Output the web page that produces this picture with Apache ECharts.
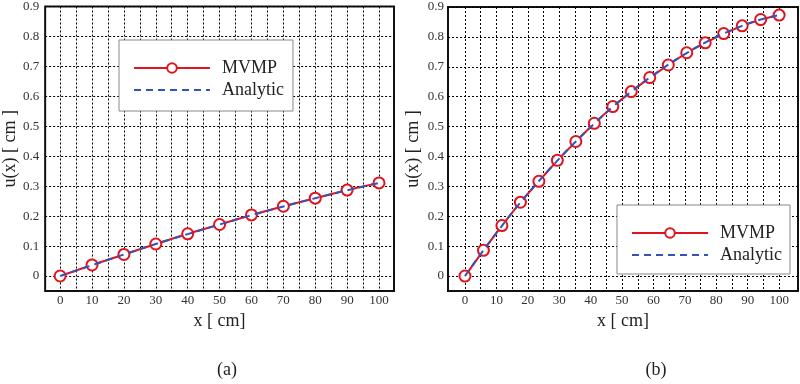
<!DOCTYPE html>
<html>
<head>
<meta charset="utf-8">
<script src="https://cdn.jsdelivr.net/npm/echarts@6/dist/echarts.min.js"></script>
<style>
html,body{margin:0;padding:0;background:#fff;}
#main{width:800px;height:384px;}
</style>
</head>
<body>
<div id="main"></div>
<script>
// ---- data ----
var xA = [0, 10, 20, 30, 40, 50, 60, 70, 80, 90, 100];
var mvmpA = [0, 0.037, 0.072, 0.107, 0.141, 0.172, 0.204, 0.233, 0.260, 0.287, 0.311];
var analyticA = [0, 0.036, 0.072, 0.107, 0.140, 0.172, 0.203, 0.232, 0.260, 0.286, 0.311];

var xB = [0, 5.88, 11.76, 17.65, 23.53, 29.41, 35.29, 41.18, 47.06, 52.94, 58.82, 64.71, 70.59, 76.47, 82.35, 88.24, 94.12, 100];
var mvmpB = [0, 0.086, 0.169, 0.247, 0.317, 0.387, 0.450, 0.511, 0.567, 0.617, 0.664, 0.706, 0.747, 0.780, 0.811, 0.837, 0.858, 0.873];
var analyticB = [0, 0.086, 0.168, 0.246, 0.318, 0.386, 0.450, 0.510, 0.566, 0.617, 0.664, 0.707, 0.746, 0.781, 0.811, 0.837, 0.858, 0.873];

var xTicks = [0, 5, 10, 15, 20, 25, 30, 35, 40, 45, 50, 55, 60, 65, 70, 75, 80, 85, 90, 95, 100];
var xLabels = [0, 10, 20, 30, 40, 50, 60, 70, 80, 90, 100];
var yTicks = [0, 0.1, 0.2, 0.3, 0.4, 0.5, 0.6, 0.7, 0.8, 0.9];
var seriesNames = ['MVMP', 'Analytic'];
var panelLabels = ['(a)', '(b)'];
var xName = 'x [ cm]';
var yName = 'u(x) [ cm ]';

var FONT = "'Liberation Serif', 'Times New Roman', 'DejaVu Serif', serif";
var RED = '#e0141e';
var BLUE = '#3552b8';

function pairs(xs, ys) { return xs.map(function (x, i) { return [x, ys[i]]; }); }

function makeX(idx, min, max) {
  return {
    type: 'value', gridIndex: idx, min: min, max: max,
    name: xName, nameLocation: 'middle', nameGap: 16,
    nameTextStyle: { fontFamily: FONT, fontSize: 18, color: '#222' },
    axisLine: { show: false },
    axisTick: { show: false, customValues: xTicks },
    axisLabel: { customValues: xLabels, fontFamily: FONT, fontSize: 13, color: '#333', margin: 3 },
    splitLine: { show: true, lineStyle: { color: '#000', width: 1, type: [2, 2] } }
  };
}
function makeY(idx, gap, margin) {
  return {
    type: 'value', gridIndex: idx, min: -0.05, max: 0.9,
    name: yName, nameLocation: 'middle', nameGap: gap, nameRotate: 90,
    nameTextStyle: { fontFamily: FONT, fontSize: 18, color: '#222' },
    axisLine: { show: false },
    axisTick: { show: false, customValues: yTicks },
    axisLabel: { customValues: yTicks, fontFamily: FONT, fontSize: 13, color: '#333', margin: margin,
      formatter: function (v) { return v === 0 ? '0' : v.toFixed(1); } },
    splitLine: { show: true, lineStyle: { color: '#000', width: 1, type: [2, 2] } }
  };
}
function mvmpSeries(idx, data) {
  return {
    name: seriesNames[0], type: 'line', xAxisIndex: idx, yAxisIndex: idx,
    data: data, symbol: 'emptyCircle', symbolSize: 11, showSymbol: true,
    lineStyle: { color: RED, width: 2 },
    itemStyle: { color: RED, borderColor: RED, borderWidth: 2 },
    animation: false, z: 2
  };
}
function analyticSeries(idx, data) {
  return {
    name: seriesNames[1], type: 'line', xAxisIndex: idx, yAxisIndex: idx,
    data: data, symbol: 'none', smooth: true,
    lineStyle: { color: BLUE, width: 2, type: [7, 5] },
    itemStyle: { color: BLUE },
    animation: false, z: 3
  };
}
function makeLegend(left, top, pad) {
  return {
    orient: 'vertical', left: left, top: top,
    data: [
      { name: seriesNames[0] },
      { name: seriesNames[1], itemStyle: { color: 'rgba(0,0,0,0)', borderColor: 'rgba(0,0,0,0)', borderWidth: 0, opacity: 0 } }
    ],
    itemWidth: 76, itemHeight: 12, itemGap: 4,
    padding: pad,
    backgroundColor: '#fff', borderColor: '#888', borderWidth: 1, borderRadius: 0,
    textStyle: { fontFamily: FONT, fontSize: 18, color: '#222', padding: [0, 0, 0, 7] },
    selectedMode: false
  };
}

var chart = echarts.init(document.getElementById('main'), null, { renderer: 'canvas' });
chart.setOption({
  backgroundColor: '#fff',
  animation: false,
  textStyle: { fontFamily: FONT },
  grid: [
    { left: 45, top: 4, width: 349, height: 287, show: true, borderColor: '#111', borderWidth: 2, backgroundColor: 'transparent' },
    { left: 448, top: 7, width: 350, height: 284, show: true, borderColor: '#111', borderWidth: 2, backgroundColor: 'transparent' }
  ],
  xAxis: [makeX(0, -4.7, 104.7), makeX(1, -5.4, 106)],
  yAxis: [makeY(0, 23, 6), makeY(1, 26, 4)],
  legend: [makeLegend(119, 40, [19, 9, 12, 14]), makeLegend(617, 205, [19, 8, 10, 14])],
  series: [
    mvmpSeries(0, pairs(xA, mvmpA)), analyticSeries(0, pairs(xA, analyticA)),
    mvmpSeries(1, pairs(xB, mvmpB)), analyticSeries(1, pairs(xB, analyticB))
  ],
  graphic: [
    { type: 'text', x: 227, y: 370, style: { text: panelLabels[0], fontFamily: FONT, fontSize: 18, fill: '#222', align: 'center', verticalAlign: 'middle' } },
    { type: 'text', x: 656, y: 370, style: { text: panelLabels[1], fontFamily: FONT, fontSize: 18, fill: '#222', align: 'center', verticalAlign: 'middle' } }
  ]
});
</script>
</body>
</html>
